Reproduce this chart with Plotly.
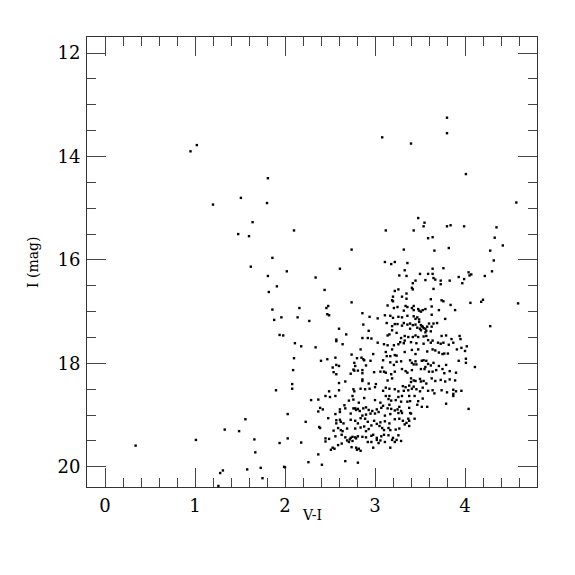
import plotly.graph_objects as go

# (V-I, I) pairs, grouped by region
sparse_bright = [(0.95,13.90),(1.02,13.78),(1.20,14.93),(1.51,14.80),(1.81,14.42),(1.80,14.90),
                 (1.48,15.50),(1.64,15.27),(3.08,13.63),(3.40,13.75),(3.80,13.25),(3.80,13.55),
                 (3.48,15.19),(3.55,15.28)]
sparse_faint = [(1.33,19.28),(1.49,19.31),(0.34,19.59),(1.01,19.48),(1.31,20.07),(1.28,20.12),(1.26,20.37)]
red_edge = [(4.01,14.34),(4.57,14.89),(4.35,15.37),(4.33,15.57),(4.42,15.72),(4.28,15.82),(4.32,16.01),
            (4.30,16.22),(4.22,16.31),(4.18,16.81),(4.20,16.77),(4.59,16.84),(4.28,17.28)]
blue_upper = [(2.10,15.43),(1.60,15.54),(1.86,15.96),(1.62,16.13),(2.02,16.22),(1.81,16.31),(2.34,16.34),
              (1.91,16.51),(1.82,16.62),(2.16,16.93),(1.86,16.96),
              (1.96,17.11),(2.14,17.11),(1.88,17.16),(2.27,17.18),(1.94,17.45),(1.98,17.46),(2.11,17.61),
              (2.18,17.67),(2.34,17.69),(2.10,17.90),(2.09,18.13),(2.08,18.40),(2.08,18.49),(1.90,18.52)]
mid_upper = [(3.12,15.43),(2.74,15.80),(2.61,16.17),(3.11,16.04),(3.18,16.08),(3.22,16.04),(3.27,16.30),
             (2.44,16.58),(2.74,16.82),(3.22,16.60),(3.26,16.57),(3.20,16.71),(3.19,16.78),(3.20,16.80),
             (3.14,16.88),(3.21,16.93),(3.25,16.91),(2.48,16.89),(2.46,16.93)]
red_upper = [(3.54,15.35),(3.80,15.35),(3.84,15.33),(3.99,15.35),(3.43,15.43),(3.59,15.58),(3.64,15.56),
             (3.82,15.77),(3.32,15.80),(3.66,15.82),(3.36,16.06),(3.33,16.20),(3.64,16.17),(3.76,16.16),
             (3.35,16.31),(3.50,16.27),(3.59,16.27),(3.64,16.27),(3.65,16.35),(3.67,16.38),(3.45,16.40),
             (3.42,16.45),(3.56,16.39),(3.73,16.40),(3.73,16.47),(3.83,16.40),(3.93,16.33),(3.99,16.37),
             (3.97,16.45),(4.04,16.24),(4.05,16.30),(4.07,16.28),(3.41,16.54),(3.42,16.57),(3.65,16.56),
             (3.35,16.65),(3.30,16.71),(3.35,16.75),(3.62,16.76),(3.74,16.78),(3.76,16.80),(3.84,16.87),
             (4.06,16.83),(3.34,16.89),(3.36,16.91),(3.41,16.93),(3.43,16.89),(3.48,16.95),(3.53,16.97),
             (3.56,16.95),(3.63,16.90),(3.71,16.97),(3.89,16.97)]
mid_middle = [(2.47,17.05),(2.49,17.07),(2.86,17.03),(2.94,17.10),(3.03,17.13),(3.11,17.07),(3.17,17.08),
              (3.20,17.12),(3.26,17.10),(2.87,17.25),(3.13,17.22),(3.19,17.28),(3.22,17.24),(3.25,17.24),
              (2.60,17.33),(2.93,17.37),(3.19,17.36),(3.24,17.41),(3.16,17.44),(3.14,17.46),(2.68,17.44),
              (2.57,17.54),(2.57,17.57),(2.86,17.51),(2.92,17.51),(2.96,17.52),(3.03,17.60),(3.10,17.63),
              (3.14,17.65),(3.21,17.65),(3.26,17.63),(2.64,17.63),(2.84,17.73),(2.98,17.82),(3.12,17.78),
              (3.19,17.73),(2.74,17.83),(2.85,17.89),(2.87,17.92),(2.88,17.94),(2.80,17.90),(3.13,17.86),
              (3.17,17.86),(3.22,17.84),(3.24,17.85),(2.40,17.95),(2.47,17.92),(2.56,17.89),(2.95,17.95),
              (2.77,17.99),(3.09,17.94),(3.17,17.98),(3.24,17.97),(2.57,18.03),(2.60,18.05),(2.53,18.08),
              (2.90,18.04),(2.78,18.05),(3.08,18.08),(3.21,18.03),(2.76,18.12),(2.77,18.14),(2.81,18.14),
              (2.86,18.13),(3.06,18.16),(2.54,18.17),(2.57,18.21),(2.73,18.20),(2.86,18.19),(2.99,18.17),
              (3.10,18.16),(3.12,18.18),(3.18,18.21),(3.22,18.16),(2.86,18.31),(2.86,18.34),(2.67,18.35),
              (2.60,18.38),(2.93,18.39),(3.01,18.40),(3.14,18.33),(3.19,18.29),(2.49,18.54),(2.60,18.52),
              (2.76,18.50),(2.77,18.54),(2.84,18.49),(2.89,18.50),(2.94,18.49),(3.00,18.46),(3.12,18.47),
              (3.16,18.49),(3.22,18.50),(3.09,18.53),(3.26,18.54)]
red_middle = [(3.32,16.98),(3.43,16.97),(3.49,16.98),(3.51,17.00),(3.63,17.06),(3.30,17.11),(3.36,17.08),
              (3.43,17.09),(3.45,17.14),(3.47,17.11),(3.49,17.15),(3.32,17.22),(3.36,17.25),(3.39,17.23),
              (3.42,17.26),(3.45,17.25),(3.49,17.20),(3.51,17.26),(3.52,17.28),(3.53,17.29),(3.54,17.32),
              (3.56,17.33),(3.57,17.37),(3.58,17.29),(3.60,17.23),(3.63,17.29),(3.65,17.23),(3.69,17.22),
              (3.78,17.14),(3.30,17.27),(3.39,17.33),(3.47,17.31),(3.50,17.33),(3.51,17.36),(3.56,17.40),
              (3.62,17.38),(3.29,17.51),(3.33,17.47),(3.37,17.49),(3.42,17.49),(3.45,17.46),(3.48,17.49),
              (3.54,17.48),(3.57,17.47),(3.74,17.47),(3.79,17.46),(3.85,17.53),(3.94,17.47),(3.95,17.53),
              (3.28,17.59),(3.32,17.61),(3.33,17.56),(3.40,17.59),(3.46,17.61),(3.54,17.62),(3.59,17.55),
              (3.62,17.60),(3.64,17.56),(3.70,17.60),(3.73,17.62),(3.76,17.60),(3.82,17.64),(3.87,17.60),
              (3.91,17.73),(3.96,17.70),(4.02,17.67),(3.33,17.78),(3.41,17.74),(3.45,17.82),(3.48,17.73),
              (3.58,17.77),(3.64,17.73),(3.67,17.75),(3.71,17.79),(3.75,17.82),(3.77,17.81),(3.81,17.81),
              (4.00,17.76),(3.29,17.96),(3.39,17.94),(3.41,17.99),(3.43,18.02),(3.45,17.96),(3.46,18.02),
              (3.52,17.95),(3.54,17.94),(3.57,17.95),(3.59,18.01),(3.62,18.04),(3.65,17.99),(3.71,18.05),
              (3.79,18.03),(3.93,17.95),(4.01,17.91),(4.01,17.99),(4.11,18.07),(3.30,18.11),(3.34,18.15),
              (3.36,18.18),(3.41,18.13),(3.51,18.11),(3.55,18.11),(3.56,18.07),(3.60,18.16),(3.64,18.16),
              (3.68,18.13),(3.75,18.11),(3.77,18.19),(3.83,18.15),(3.90,18.18),(3.40,18.29),(3.43,18.33),
              (3.40,18.36),(3.45,18.34),(3.50,18.30),(3.51,18.35),(3.54,18.34),(3.57,18.39),(3.63,18.29),
              (3.67,18.34),(3.73,18.32),(3.78,18.35),(3.83,18.31),(3.89,18.33),(3.31,18.44),(3.34,18.46),
              (3.38,18.43),(3.43,18.45),(3.32,18.53),(3.37,18.52),(3.41,18.49),(3.46,18.50),(3.50,18.54),
              (3.53,18.47),(3.59,18.53),(3.64,18.52),(3.74,18.52),(3.80,18.56),(3.87,18.51),(3.90,18.54),
              (3.96,18.53),(3.66,18.58),(3.87,18.59)]
blue_lower = [(2.29,18.71),(2.37,18.70),(2.03,18.98),(1.56,19.08),(2.37,18.93),(2.23,19.13),(2.38,19.23),
              (1.66,19.47),(2.03,19.45),(1.94,19.54),(2.18,19.53),(1.67,19.72),(2.37,19.76),(2.26,19.91),
              (1.58,20.05),(1.73,20.02),(1.99,20.00),(2.00,20.01),(1.75,20.22)]
mid_lower = [(2.45,18.63),(2.50,18.65),(2.56,18.63),(2.71,18.72),(2.76,18.70),(2.82,18.76),(2.75,18.63),
             (2.88,18.67),(3.00,18.71),(3.06,18.76),(3.12,18.63),(3.15,18.69),(3.18,18.72),(3.23,18.71),
             (3.26,18.65),(3.16,18.63),(2.39,18.86),(2.42,18.89),(2.61,18.89),(2.67,18.87),(2.66,18.81),
             (2.76,18.87),(2.78,18.87),(2.79,18.90),(2.81,18.88),(2.83,18.92),(2.87,18.87),(2.90,18.85),
             (2.93,18.90),(2.97,18.92),(3.02,18.89),(3.07,18.86),(3.09,18.82),(3.14,18.87),(3.16,18.80),
             (3.18,18.88),(3.22,18.91),(3.25,18.89),(2.48,19.06),(2.56,18.98),(2.61,18.94),(2.73,18.97),
             (2.86,19.01),(2.90,18.99),(2.95,18.97),(3.00,18.97),(3.04,18.94),(3.11,19.01),(3.17,18.98),
             (3.26,18.96),(2.57,19.10),(2.57,19.16),(2.62,19.13),(2.61,19.09),(2.65,19.16),(2.73,19.09),
             (2.78,19.11),(2.81,19.16),(2.84,19.06),(2.89,19.07),(2.92,19.13),(2.99,19.11),(3.02,19.17),
             (3.06,19.14),(3.11,19.12),(3.16,19.16),(3.22,19.08),(3.27,19.07),(2.39,19.25),(2.54,19.30),
             (2.59,19.25),(2.62,19.29),(2.64,19.31),(2.69,19.26),(2.78,19.26),(2.84,19.24),(2.88,19.22),
             (2.90,19.31),(2.93,19.27),(2.96,19.20),(3.05,19.21),(3.08,19.25),(3.10,19.29),(3.15,19.25),
             (3.17,19.29),(3.23,19.28),(3.27,19.26),(2.45,19.45),(2.49,19.46),(2.56,19.41),(2.63,19.38),
             (2.67,19.43),(2.73,19.44),(2.75,19.42),(2.78,19.43),(2.79,19.45),(2.75,19.50),(2.81,19.41),
             (2.86,19.42),(2.90,19.43),(2.96,19.40),(2.98,19.38),(3.02,19.44),(3.07,19.41),(3.10,19.38),
             (3.15,19.39),(3.19,19.48),(3.20,19.44),(3.26,19.39),(2.45,19.51),(2.69,19.49),(2.72,19.47),
             (2.92,19.52),(2.96,19.52),(3.02,19.48),(3.06,19.49),(3.11,19.52),(3.24,19.48),(2.53,19.63),
             (2.55,19.65),(2.59,19.58),(2.63,19.55),(2.71,19.52),(2.74,19.62),(2.79,19.63),(2.80,19.67),
             (2.82,19.65),(2.84,19.69),(2.98,19.63),(3.04,19.54),(3.17,19.63),(3.22,19.52),(2.51,19.67),
             (2.41,19.96),(2.67,19.89),(2.81,19.92)]
red_lower = [(3.30,18.63),(3.38,18.63),(3.44,18.63),(3.87,18.63),(3.53,18.68),(3.29,18.74),(3.36,18.74),
             (3.39,18.73),(3.48,18.73),(3.47,18.80),(3.52,18.84),(3.58,18.84),(3.79,18.78),(4.04,18.88),
             (3.27,18.84),(3.38,18.86),(3.29,18.92),(3.30,18.96),(3.39,18.96),(3.40,18.97),(3.44,19.07),
             (3.31,19.11),(3.37,19.07),(3.38,19.11),(3.35,19.15),(3.33,19.18),(3.38,19.21),(3.29,19.50)]

groups = [sparse_bright, sparse_faint, red_edge, blue_upper, mid_upper, red_upper,
          mid_middle, red_middle, blue_lower, mid_lower, red_lower]
vi = [p[0] for g in groups for p in g]
imag = [p[1] for g in groups for p in g]

x_ticks = [0, 1, 2, 3, 4]
y_ticks = [12, 14, 16, 18, 20]
x_title = "V-I"
y_title = "I (mag)"

fig = go.Figure(go.Scatter(
    x=vi, y=imag, mode="markers",
    marker=dict(symbol="square", size=2.4, color="black", line=dict(width=0)),
    hoverinfo="skip"))

font_family = "DejaVu Serif"
axis_common = dict(
    showgrid=False, zeroline=False, showline=True, linecolor="#333", linewidth=1,
    mirror="ticks", ticks="inside", ticklen=19, tickwidth=1, tickcolor="#444",
    tickfont=dict(family=font_family, size=18, color="black"),
)
fig.update_xaxes(range=[-0.2, 4.8], tickvals=x_ticks, ticktext=[str(v) for v in x_ticks],
                 minor=dict(dtick=0.2, tick0=0, ticks="inside", ticklen=9, tickcolor="#444", tickwidth=1),
                 ticklabelstandoff=2, **axis_common)
fig.update_yaxes(range=[20.39, 11.69], tickvals=y_ticks, ticktext=[str(v) for v in y_ticks],
                 minor=dict(dtick=0.5, tick0=12, ticks="inside", ticklen=9, tickcolor="#444", tickwidth=1),
                 ticklabelstandoff=2, **axis_common)
fig.add_annotation(text=x_title, xref="paper", yref="paper", x=0.5, y=0, yshift=-28,
                   xanchor="center", yanchor="middle", showarrow=False,
                   font=dict(family=font_family, size=14, color="black"))
fig.add_annotation(text=y_title, xref="paper", yref="paper", x=0, y=0.5, xshift=-54,
                   xanchor="center", yanchor="middle", textangle=-90, showarrow=False,
                   font=dict(family=font_family, size=14, color="black"))
fig.update_layout(width=567, height=567, margin=dict(l=79, r=38, t=29, b=88),
                  paper_bgcolor="white", plot_bgcolor="white", showlegend=False)
fig.write_html("out.html")
